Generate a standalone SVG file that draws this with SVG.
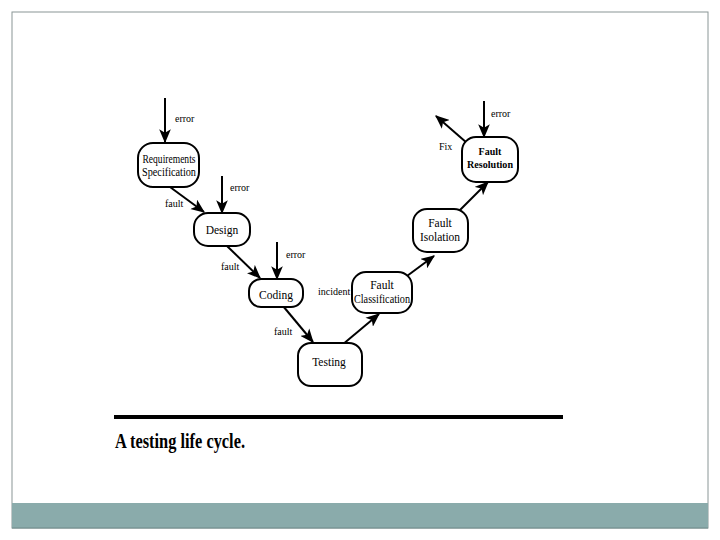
<svg xmlns="http://www.w3.org/2000/svg" width="720" height="540" viewBox="0 0 720 540">
<style>
.node{fill:#fff;stroke:#000;stroke-width:2}
.nt{font-family:"Liberation Serif",serif;font-size:11.5px;fill:#000;text-anchor:middle}
.lb{font-family:"Liberation Serif",serif;font-size:10px;fill:#000}
.ed{stroke:#000;stroke-width:2;fill:none;marker-end:url(#ah)}
</style>
<defs>
<marker id="ah" viewBox="0 0 12 10" refX="11" refY="5" markerWidth="7" markerHeight="6" orient="auto" markerUnits="strokeWidth">
<path d="M0,0 L12,5 L0,10 L3,5 Z" fill="#000"/>
</marker>
</defs>
<rect x="0" y="0" width="720" height="540" fill="#fff"/>
<rect x="12" y="12" width="696" height="516" fill="#fff" stroke="#8a9696" stroke-width="1"/>
<rect x="12" y="503" width="696" height="25" fill="#8aabab"/>
<line x1="12" y1="528" x2="708" y2="528" stroke="#6f8a8a" stroke-width="1"/>

<g id="connectors">
<line class="ed" x1="165" y1="98" x2="165" y2="142"/>
<line class="ed" x1="222" y1="176" x2="222" y2="213"/>
<line class="ed" x1="277" y1="242" x2="277" y2="279"/>
<line class="ed" x1="484" y1="101" x2="484" y2="137"/>
<line class="ed" x1="467" y1="143" x2="436" y2="116"/>
<line class="ed" x1="170" y1="187" x2="204" y2="212"/>
<line class="ed" x1="227" y1="246" x2="260" y2="278"/>
<line class="ed" x1="283" y1="306" x2="313" y2="342"/>
<line class="ed" x1="342" y1="345" x2="379" y2="314"/>
<line class="ed" x1="407" y1="276" x2="434" y2="256"/>
<line class="ed" x1="460" y1="210" x2="488" y2="182"/>
<text class="lb" x="175" y="122">error</text>
<text class="lb" x="230" y="191">error</text>
<text class="lb" x="286" y="258">error</text>
<text class="lb" x="491" y="117">error</text>
<text class="lb" x="439" y="150">Fix</text>
<text class="lb" x="165" y="207">fault</text>
<text class="lb" x="221" y="270">fault</text>
<text class="lb" x="274" y="335">fault</text>
<text class="lb" x="318" y="295">incident</text>
</g>

<g id="req">
<rect class="node" x="138" y="143" width="61" height="44" rx="15"/>
<text class="nt" x="169" y="163" textLength="53" lengthAdjust="spacingAndGlyphs">Requirements</text>
<text class="nt" x="169" y="176" textLength="54" lengthAdjust="spacingAndGlyphs">Specification</text>
</g>
<g id="design">
<rect class="node" x="194" y="213" width="56" height="33" rx="14"/>
<text class="nt" x="222" y="234">Design</text>
</g>
<g id="coding">
<rect class="node" x="249" y="279" width="54" height="28" rx="12"/>
<text class="nt" x="276" y="299">Coding</text>
</g>
<g id="testing">
<rect class="node" x="298" y="343" width="64" height="43" rx="13"/>
<text class="nt" x="329" y="366">Testing</text>
</g>
<g id="faultclass">
<rect class="node" x="352" y="272" width="60" height="41" rx="14"/>
<text class="nt" x="382" y="289">Fault</text>
<text class="nt" x="382" y="303" textLength="56" lengthAdjust="spacingAndGlyphs">Classification</text>
</g>
<g id="faultiso">
<rect class="node" x="413" y="209" width="55" height="43" rx="14"/>
<text class="nt" x="440" y="227">Fault</text>
<text class="nt" x="440" y="241">Isolation</text>
</g>
<g id="faultres">
<rect class="node" x="462" y="137" width="56" height="45" rx="14"/>
<text class="nt" x="490" y="155" style="font-weight:bold;font-size:10px">Fault</text>
<text class="nt" x="490" y="168" style="font-weight:bold;font-size:10px" textLength="46" lengthAdjust="spacingAndGlyphs">Resolution</text>
</g>

<line x1="114" y1="417" x2="563" y2="417" stroke="#000" stroke-width="4"/>
<text x="115" y="448" font-family="'Liberation Serif',serif" font-size="20" font-weight="bold" textLength="130" lengthAdjust="spacingAndGlyphs">A testing life cycle.</text>
</svg>
